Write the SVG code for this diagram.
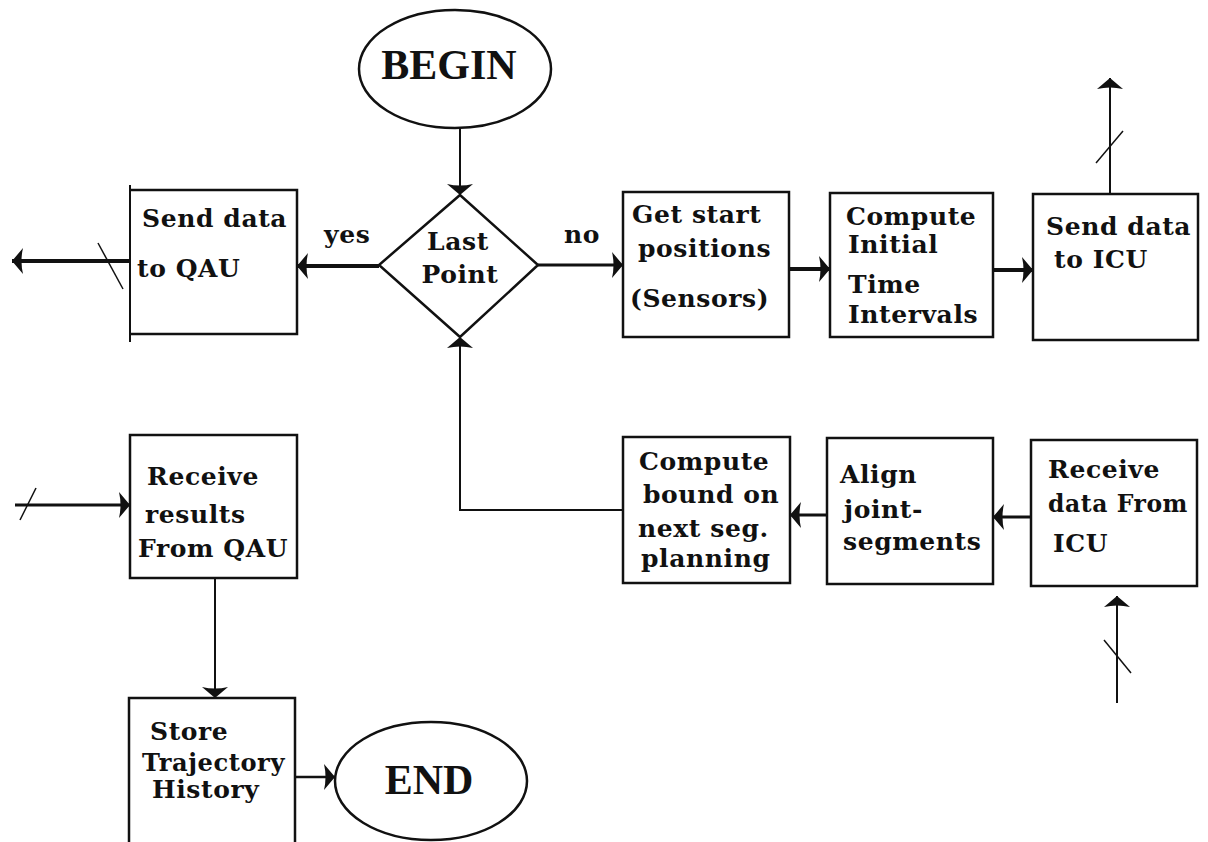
<svg xmlns="http://www.w3.org/2000/svg" width="1208" height="842" viewBox="0 0 1208 842">
<style>
  .box{fill:#fff;stroke:#111;stroke-width:2.5}
  .edge{fill:none;stroke:#111}
  .lbl{font-family:"DejaVu Serif","Liberation Serif",serif;font-weight:bold;font-size:25px;fill:#111;letter-spacing:0.6px}
  .big{font-family:"Liberation Serif","DejaVu Serif",serif;font-weight:bold;font-size:42px;fill:#111}
  .slash{stroke:#111;stroke-width:1.5;fill:none}
</style>
<defs>
  <marker id="ah" markerUnits="userSpaceOnUse" viewBox="0 -13 11 26" refX="11" refY="0" markerWidth="11" markerHeight="26" orient="auto">
    <path d="M0,-13 L11,0 L0,13 Q3,0 0,-13 Z" fill="#111"/>
  </marker>
</defs>
<rect width="1208" height="842" fill="#fff"/>

<g id="connectors">
  <line class="edge" x1="460" y1="128" x2="460" y2="195" stroke-width="2" marker-end="url(#ah)"/>
  <line class="edge" x1="379" y1="266" x2="297" y2="266" stroke-width="4" marker-end="url(#ah)"/>
  <line class="edge" x1="130" y1="261" x2="12" y2="261" stroke-width="4" marker-end="url(#ah)"/>
  <line class="slash" x1="98" y1="243" x2="123" y2="289"/>
  <line class="edge" x1="538" y1="265" x2="623" y2="265" stroke-width="3" marker-end="url(#ah)"/>
  <line class="edge" x1="789" y1="269" x2="830" y2="269" stroke-width="4" marker-end="url(#ah)"/>
  <line class="edge" x1="993" y1="270" x2="1033" y2="270" stroke-width="4" marker-end="url(#ah)"/>
  <line class="edge" x1="1110" y1="194" x2="1110" y2="78" stroke-width="2" marker-end="url(#ah)"/>
  <line class="slash" x1="1096" y1="163" x2="1123" y2="131"/>
  <line class="edge" x1="1117" y1="703" x2="1117" y2="596" stroke-width="2" marker-end="url(#ah)"/>
  <line class="slash" x1="1104" y1="640" x2="1131" y2="673"/>
  <line class="edge" x1="1031" y1="517" x2="993" y2="517" stroke-width="3" marker-end="url(#ah)"/>
  <line class="edge" x1="827" y1="515" x2="790" y2="515" stroke-width="3" marker-end="url(#ah)"/>
  <path class="edge" d="M623,510 H460 V337" stroke-width="2" marker-end="url(#ah)"/>
  <line class="edge" x1="15" y1="505" x2="130" y2="505" stroke-width="3" marker-end="url(#ah)"/>
  <line class="slash" x1="20" y1="520" x2="36" y2="488"/>
  <line class="edge" x1="215" y1="578" x2="215" y2="698" stroke-width="2" marker-end="url(#ah)"/>
  <line class="edge" x1="295" y1="777" x2="335" y2="777" stroke-width="2.5" marker-end="url(#ah)"/>
  <text class="lbl" x="324" y="243">yes</text>
  <text class="lbl" x="564" y="243">no</text>
</g>

<g id="begin">
  <ellipse class="box" cx="455" cy="69" rx="96" ry="59"/>
  <text class="big" x="449" y="79" text-anchor="middle">BEGIN</text>
</g>

<g id="lastPoint">
  <polygon class="box" points="460,195 538,265 460,337 379,265"/>
  <text class="lbl" x="458" y="250" text-anchor="middle">Last</text>
  <text class="lbl" x="460" y="283" text-anchor="middle">Point</text>
</g>

<g id="sendQAU">
  <path d="M130,190 H297 V334 H130" fill="#fff" stroke="#111" stroke-width="2.5"/>
  <line x1="130" y1="185" x2="130" y2="342" stroke="#111" stroke-width="2"/>
  <text class="lbl" x="142" y="227">Send data</text>
  <text class="lbl" x="137" y="277">to QAU</text>
</g>

<g id="getStart">
  <rect class="box" x="623" y="192" width="166" height="145"/>
  <text class="lbl" x="632" y="223">Get start</text>
  <text class="lbl" x="638" y="257">positions</text>
  <text class="lbl" x="630" y="307">(Sensors)</text>
</g>

<g id="computeInitial">
  <rect class="box" x="830" y="193" width="163" height="144"/>
  <text class="lbl" x="846" y="225">Compute</text>
  <text class="lbl" x="848" y="253">Initial</text>
  <text class="lbl" x="848" y="293">Time</text>
  <text class="lbl" x="848" y="323">Intervals</text>
</g>

<g id="sendICU">
  <rect class="box" x="1033" y="194" width="165" height="146"/>
  <text class="lbl" x="1046" y="235">Send data</text>
  <text class="lbl" x="1054" y="268">to ICU</text>
</g>

<g id="receiveICU">
  <rect class="box" x="1031" y="440" width="166" height="146"/>
  <text class="lbl" x="1048" y="478">Receive</text>
  <text class="lbl" x="1048" y="512" textLength="140" lengthAdjust="spacingAndGlyphs">data From</text>
  <text class="lbl" x="1053" y="552">ICU</text>
</g>

<g id="align">
  <rect class="box" x="827" y="438" width="166" height="146"/>
  <text class="lbl" x="840" y="483">Align</text>
  <text class="lbl" x="844" y="518">joint-</text>
  <text class="lbl" x="843" y="550">segments</text>
</g>

<g id="computeBound">
  <rect class="box" x="623" y="437" width="167" height="146"/>
  <text class="lbl" x="639" y="470">Compute</text>
  <text class="lbl" x="643" y="503">bound on</text>
  <text class="lbl" x="638" y="537">next seg.</text>
  <text class="lbl" x="641" y="567">planning</text>
</g>

<g id="receiveQAU">
  <rect class="box" x="130" y="435" width="167" height="143"/>
  <text class="lbl" x="147" y="485">Receive</text>
  <text class="lbl" x="145" y="523">results</text>
  <text class="lbl" x="138" y="557">From QAU</text>
</g>

<g id="store">
  <path d="M129,842 V698 H295 V842" fill="#fff" stroke="#111" stroke-width="2.5"/>
  <text class="lbl" x="150" y="740">Store</text>
  <text class="lbl" x="142" y="771" textLength="143" lengthAdjust="spacingAndGlyphs">Trajectory</text>
  <text class="lbl" x="152" y="798">History</text>
</g>

<g id="end">
  <ellipse class="box" cx="431" cy="781" rx="96" ry="59"/>
  <text class="big" x="429" y="794" text-anchor="middle">END</text>
</g>
</svg>
